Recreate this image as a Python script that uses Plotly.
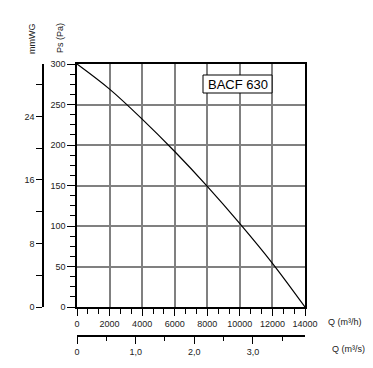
import plotly.graph_objects as go

# Data (Q in m3/h, Ps in Pa)
flow_m3h = [0, 2000, 4000, 6000, 8000, 10000, 12000, 14000]
pressure_pa = [300, 269, 232, 192, 149, 103, 54, 0]

x_ticks = [0, 2000, 4000, 6000, 8000, 10000, 12000, 14000]
x_labels = ["0", "2000", "4000", "6000", "8000", "10000", "12000", "14000"]
y_ticks = [0, 50, 100, 150, 200, 250, 300]
mmwg_ticks = [0, 4, 8, 12, 16, 20, 24, 28]
mmwg_labels = ["0", "", "8", "", "16", "", "24", ""]
m3s_ticks = [0, 1, 2, 3]
m3s_labels = ["0", "1,0", "2,0", "3,0"]

PA_PER_MMWG = 9.80665
title_text = "BACF 630"

# page body has an 8px margin; figure placed at (8, 8)
OFF = 8
W, H = 357, 352
def px(x):
    return (x - OFF) / W
def py(y):
    return 1 - (y - OFF) / H

FONT = "Liberation Sans, Arial, sans-serif"
TXT = "#222222"
GRID = "#808080"

fig = go.Figure()
fig.add_trace(go.Scatter(x=flow_m3h, y=pressure_pa, mode="lines",
                         line=dict(color="black", width=1.2, shape="spline", smoothing=1.0),
                         hoverinfo="skip", showlegend=False))
# helper traces so the secondary axes get drawn
fig.add_trace(go.Scatter(x=[f / 3600 for f in flow_m3h], y=pressure_pa, xaxis="x2", yaxis="y",
                         mode="lines", line=dict(width=0, color="rgba(0,0,0,0)"),
                         hoverinfo="skip", showlegend=False))
fig.add_trace(go.Scatter(x=flow_m3h, y=[p / PA_PER_MMWG for p in pressure_pa], xaxis="x", yaxis="y2",
                         mode="lines", line=dict(width=0, color="rgba(0,0,0,0)"),
                         hoverinfo="skip", showlegend=False))

xdom = [px(77), px(305)]
ydom = [py(307), py(64)]

fig.update_layout(
    width=W, height=H,
    margin=dict(l=0, r=0, t=0, b=0, autoexpand=False),
    paper_bgcolor="white", plot_bgcolor="white",
    font=dict(family=FONT, size=9, color=TXT),
    showlegend=False,
    xaxis=dict(domain=xdom, range=[0, 14000], tickvals=x_ticks, ticktext=x_labels,
               automargin=False,
               ticks="outside", ticklen=7, tickwidth=1, tickcolor="black",
               showline=True, linecolor="black", linewidth=1.5, mirror=True,
               showgrid=True, gridcolor=GRID, gridwidth=1.5, zeroline=False,
               minor=dict(dtick=2000 / 3, tick0=0, ticks="outside", ticklen=5,
                          tickcolor="black", showgrid=False),
               tickfont=dict(size=9, color=TXT), anchor="y"),
    yaxis=dict(domain=ydom, range=[0, 300], tickvals=y_ticks,
               automargin=False,
               ticks="outside", ticklen=8, tickwidth=1, tickcolor="black",
               showline=True, linecolor="black", linewidth=1.5, mirror=True,
               showgrid=True, gridcolor=GRID, gridwidth=1.5, zeroline=False,
               minor=dict(dtick=12.5, tick0=0, ticks="outside", ticklen=5,
                          tickcolor="black", showgrid=False),
               tickfont=dict(size=9, color=TXT), anchor="x"),
    xaxis2=dict(domain=xdom, range=[0, 14000 / 3600], overlaying="x", anchor="free",
                position=py(336), side="bottom", automargin=False,
                tickvals=m3s_ticks, ticktext=m3s_labels,
                ticks="outside", ticklen=7, tickwidth=1, tickcolor="black",
                showline=True, linecolor="black", linewidth=1.5,
                showgrid=False, zeroline=False,
                minor=dict(dtick=0.5, tick0=0, ticks="outside", ticklen=4, tickcolor="black"),
                tickfont=dict(size=9, color=TXT)),
    yaxis2=dict(range=[0, 300 / PA_PER_MMWG], overlaying="y", anchor="free",
                position=px(43), side="left", automargin=False,
                tickvals=mmwg_ticks, ticktext=mmwg_labels,
                ticks="outside", ticklen=6, tickwidth=1, tickcolor="black",
                showline=True, linecolor="black", linewidth=1.5,
                showgrid=False, zeroline=False,
                tickfont=dict(size=9, color=TXT)),
)

fig.add_shape(type="rect", xref="paper", yref="paper",
              x0=px(203), x1=px(272), y0=py(93), y1=py(75),
              line=dict(color="black", width=1), fillcolor="white")
fig.add_annotation(x=px(237.5), y=py(84), xref="paper", yref="paper", text=title_text,
                   showarrow=False, font=dict(size=13, color="black", family=FONT),
                   xanchor="center", yanchor="middle")
fig.add_annotation(x=px(326), y=py(322), xref="paper", yref="paper", text="Q (m³/h)",
                   showarrow=False, font=dict(size=9, color=TXT), xanchor="left", yanchor="middle")
fig.add_annotation(x=px(330), y=py(349), xref="paper", yref="paper", text="Q (m³/s)",
                   showarrow=False, font=dict(size=9, color=TXT), xanchor="left", yanchor="middle")
fig.add_annotation(x=px(60), y=py(38), xref="paper", yref="paper", text="Ps (Pa)",
                   showarrow=False, textangle=-90, font=dict(size=9, color=TXT),
                   xanchor="center", yanchor="middle")
fig.add_annotation(x=px(32), y=py(39), xref="paper", yref="paper", text="mmWG",
                   showarrow=False, textangle=-90, font=dict(size=9, color=TXT),
                   xanchor="center", yanchor="middle")

fig.write_html("out.html")
